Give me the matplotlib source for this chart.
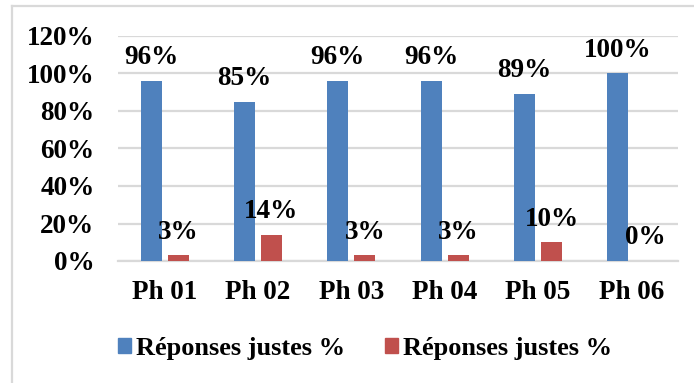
import matplotlib
matplotlib.use("Agg")
import matplotlib.pyplot as plt
from matplotlib.lines import Line2D
from matplotlib.patches import Patch
import numpy as np

categories = ["Ph 01", "Ph 02", "Ph 03", "Ph 04", "Ph 05", "Ph 06"]
series1 = [96, 85, 96, 96, 89, 100]
series2 = [3, 14, 3, 3, 10, 0]
series_names = ["Réponses justes %", "Réponses justes %"]
yticks = [0, 20, 40, 60, 80, 100, 120]

blue = "#4f81bd"
red = "#c0504d"
grid = "#d9d9d9"
FONT = "Liberation Serif"
FS = 19.5

W, H = 694, 383
fig = plt.figure(figsize=(W / 100, H / 100), dpi=100)
ax = fig.add_axes([118 / W, 1 - 261 / H, (678 - 118) / W, (261 - 36) / H])

x = np.arange(len(categories))
bw = 0.225
gap = 0.064
off = (bw + gap) / 2
b1 = ax.bar(x - off, series1, bw, color=blue, zorder=3)
b2 = ax.bar(x + off, series2, bw, color=red, zorder=3)

for bars, vals in ((b1, series1), (b2, series2)):
    for rect, v in zip(bars, vals):
        ax.annotate(f"{v}%", (rect.get_x() + rect.get_width() / 2, v),
                    xytext=(0, 12), textcoords="offset points",
                    ha="center", va="baseline", fontsize=FS,
                    fontfamily=FONT, fontweight="bold", color="black",
                    zorder=4)

ax.set_xlim(-0.5, len(categories) - 0.5)
ax.set_ylim(0, 120)
ax.set_yticks(yticks)
ax.set_yticklabels([f"{t}%" for t in yticks])
ax.set_xticks(x)
ax.set_xticklabels(categories)
for lab in ax.get_xticklabels() + ax.get_yticklabels():
    lab.set_fontfamily(FONT)
    lab.set_fontweight("bold")
    lab.set_fontsize(FS)
ax.tick_params(axis="both", length=0)
ax.tick_params(axis="y", pad=17)
ax.tick_params(axis="x", pad=14)
ax.grid(axis="y", color=grid, linewidth=1.6, zorder=0)
for s in ["top", "right", "left"]:
    ax.spines[s].set_visible(False)
ax.spines["bottom"].set_color(grid)
ax.spines["bottom"].set_linewidth(1.6)

handles = [Patch(color=blue), Patch(color=red)]
leg = fig.legend(handles, series_names, loc="center", ncol=2,
                 bbox_to_anchor=(365 / W, 1 - 348 / H),
                 frameon=False, handlelength=0.5, handleheight=0.5,
                 handletextpad=0.2, columnspacing=1.5,
                 prop={"family": FONT, "weight": "bold", "size": 19})

# outer frame (top and left visible)
fig.add_artist(Line2D([12 / W, 1], [1 - 6 / H, 1 - 6 / H], color=grid, lw=1.6,
                      transform=fig.transFigure))
fig.add_artist(Line2D([12 / W, 12 / W], [0, 1 - 6 / H], color=grid, lw=1.6,
                      transform=fig.transFigure))

fig.savefig("out.png", dpi=100)
